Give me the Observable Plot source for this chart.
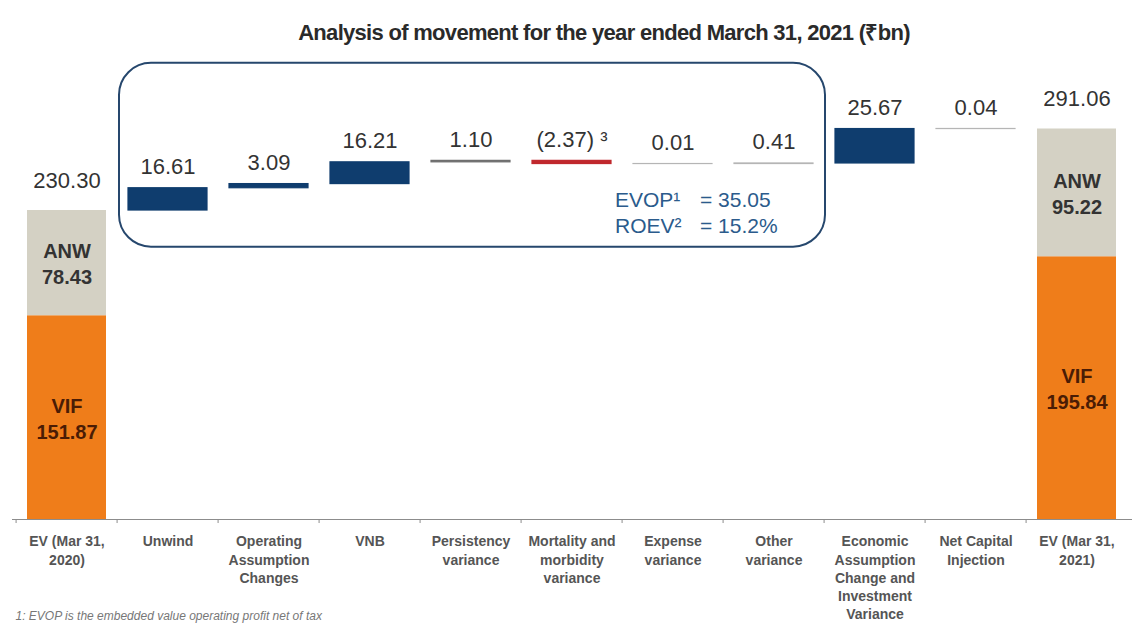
<!DOCTYPE html>
<html><head><meta charset="utf-8">
<script src="https://cdn.jsdelivr.net/npm/d3@7"></script>
<script src="https://cdn.jsdelivr.net/npm/@observablehq/plot@0.6"></script>
<style>
body{margin:0;background:#fff;width:1132px;height:623px;overflow:hidden;font-family:"Liberation Sans",Arial,sans-serif;}
#title{height:58px;box-sizing:border-box;padding-top:21px;text-align:center;padding-left:76px;font-size:22px;line-height:24px;font-weight:bold;color:#2a2a2a;letter-spacing:-0.7px;}
#chart svg{overflow:visible;}
</style></head><body>
<div id="title">Analysis of movement for the year ended March 31, 2021 (₹bn)</div>
<div id="chart"></div>
<script>
// ---- data ----
const categories = [
  "EV (Mar 31, 2020)", "Unwind", "Operating Assumption Changes", "VNB",
  "Persistency variance", "Mortality and morbidity variance", "Expense variance",
  "Other variance", "Economic Assumption Change and Investment Variance",
  "Net Capital Injection", "EV (Mar 31, 2021)"
];
const axisLabels = [
  "EV (Mar 31,\n2020)", "Unwind", "Operating\nAssumption\nChanges", "VNB",
  "Persistency\nvariance", "Mortality and\nmorbidity\nvariance", "Expense\nvariance",
  "Other\nvariance", "Economic\nAssumption\nChange and\nInvestment\nVariance",
  "Net Capital\nInjection", "EV (Mar 31,\n2021)"
];
const movementCategories = categories.slice(1, 10);
const movementValues = [16.61, 3.09, 16.21, 1.10, -2.37, 0.01, 0.41, 25.67, 0.04];
const movementLabels = ["16.61", "3.09", "16.21", "1.10", "(2.37) ³", "0.01", "0.41", "25.67", "0.04"];
const openingANW = 78.43, openingVIF = 151.87, openingTotal = 230.30;
const closingANW = 95.22, closingVIF = 195.84, closingTotal = 291.06;
const evop = 35.05, roev = 15.2;
const footnote = "1: EVOP is the embedded value operating profit net of tax";

// ---- styles ----
const navy = "#0f3d6e", orange = "#ef7d1a", beige = "#d4d1c4";
const barColors = {
  "Unwind": navy, "Operating Assumption Changes": navy, "VNB": navy,
  "Persistency variance": "#6e6e6e", "Mortality and morbidity variance": "#c0282d",
  "Expense variance": "#b5b5b5", "Other variance": "#b5b5b5",
  "Economic Assumption Change and Investment Variance": navy,
  "Net Capital Injection": "#b5b5b5"
};
const labelOf = new Map(categories.map((c, i) => [c, axisLabels[i]]));

// ---- derived tables ----
const segments = [
  {cat: categories[0], part: "VIF", value: openingVIF, y1: 0, y2: openingVIF},
  {cat: categories[0], part: "ANW", value: openingANW, y1: openingVIF, y2: openingVIF + openingANW},
  {cat: categories[10], part: "VIF", value: closingVIF, y1: 0, y2: closingVIF},
  {cat: categories[10], part: "ANW", value: closingANW, y1: closingVIF, y2: closingVIF + closingANW}
];
const totals = [
  {cat: categories[0], value: openingTotal},
  {cat: categories[10], value: closingTotal}
];
let running = openingTotal;
const moves = movementCategories.map((cat, i) => {
  const start = running;
  running += movementValues[i];
  return {cat, start, end: running, label: movementLabels[i]};
});

const paddingInner = 0.216;
const boxSpan = ["Unwind", "Other variance"];
const boxY = [203, 340];

function evopBox(index, scales) {
  const {x, y} = scales;
  const bw = x.bandwidth();
  const step = x.step ? x.step() : x(categories[2]) - x(categories[1]);
  const gap = (step - bw) / 2;
  const left = x(boxSpan[0]) - gap + 2, right = x(boxSpan[1]) + bw + gap + 1;
  const top = y(boxY[1]), bottom = y(boxY[0]);
  const g = d3.create("svg:g");
  g.append("rect").attr("x", left).attr("y", top)
    .attr("width", right - left).attr("height", bottom - top)
    .attr("rx", 32).attr("fill", "none").attr("stroke", "#26476d").attr("stroke-width", 2);
  const tx = x("Expense variance") - gap - 7;
  const rows = [["EVOP¹", `= ${evop.toFixed(2)}`, bottom - 47], ["ROEV²", `= ${roev.toFixed(1)}%`, bottom - 21]];
  for (const [a, b, cy] of rows) {
    const t = g.append("text").attr("y", cy).attr("dy", "0.36em")
      .attr("text-anchor", "start")
      .attr("font-size", 21).attr("fill", "#2b5b8c")
      .attr("font-family", "Liberation Sans, Arial, sans-serif");
    t.append("tspan").attr("x", tx).text(a);
    t.append("tspan").attr("x", tx + 85).text(b);
  }
  return g.node();
}

const chart = Plot.plot({
  width: 1132, height: 565,
  marginLeft: 12, marginRight: 0, marginTop: 58.5, marginBottom: 104,
  x: {domain: categories, paddingInner, paddingOuter: paddingInner / 2, align: 0.5},
  y: {domain: [0, 300], axis: null},
  style: {fontFamily: "Liberation Sans, Arial, sans-serif", background: "white"},
  marks: [
    Plot.barY(segments, {x: "cat", y1: "y1", y2: "y2", fill: d => d.part === "ANW" ? beige : orange}),
    Plot.barY(moves, {x: "cat", y1: "start", y2: "end", fill: d => barColors[d.cat], stroke: d => barColors[d.cat], strokeWidth: 1.2}),
    Plot.text(segments, {
      x: "cat", y: d => (d.y1 + d.y2) / 2, text: d => `${d.part}\n${d.value.toFixed(2)}`,
      fontSize: 20, fontWeight: "bold", lineHeight: 1.3,
      fill: d => d.part === "ANW" ? "#333" : "#4a1c05"
    }),
    Plot.text(moves, {x: "cat", y: d => Math.max(d.start, d.end), text: "label", lineAnchor: "bottom", dy: -14, fontSize: 22, fill: "#333"}),
    Plot.text(totals, {x: "cat", y: "value", text: d => d.value.toFixed(2), lineAnchor: "bottom", dy: -23, fontSize: 22, fill: "#333"}),
    Plot.ruleY([0], {stroke: "#8c8c8c"}),
    Plot.ruleX(categories, {x: d => d, y1: 0, y2: -3, dx: -1120 / 22, stroke: "#8c8c8c"}),
    Plot.axisX({tickSize: 0, tickPadding: 14, tickFormat: d => labelOf.get(d), fontSize: 14, lineHeight: 1.3, fill: "#555", fontWeight: "bold", label: null}),
    Plot.text([footnote], {frameAnchor: "bottom-left", dx: 3, dy: 100, lineAnchor: "bottom", textAnchor: "start", fontStyle: "italic", fontSize: 12, fill: "#777"}),
    evopBox
  ]
});
document.getElementById("chart").append(chart);
</script></body></html>
